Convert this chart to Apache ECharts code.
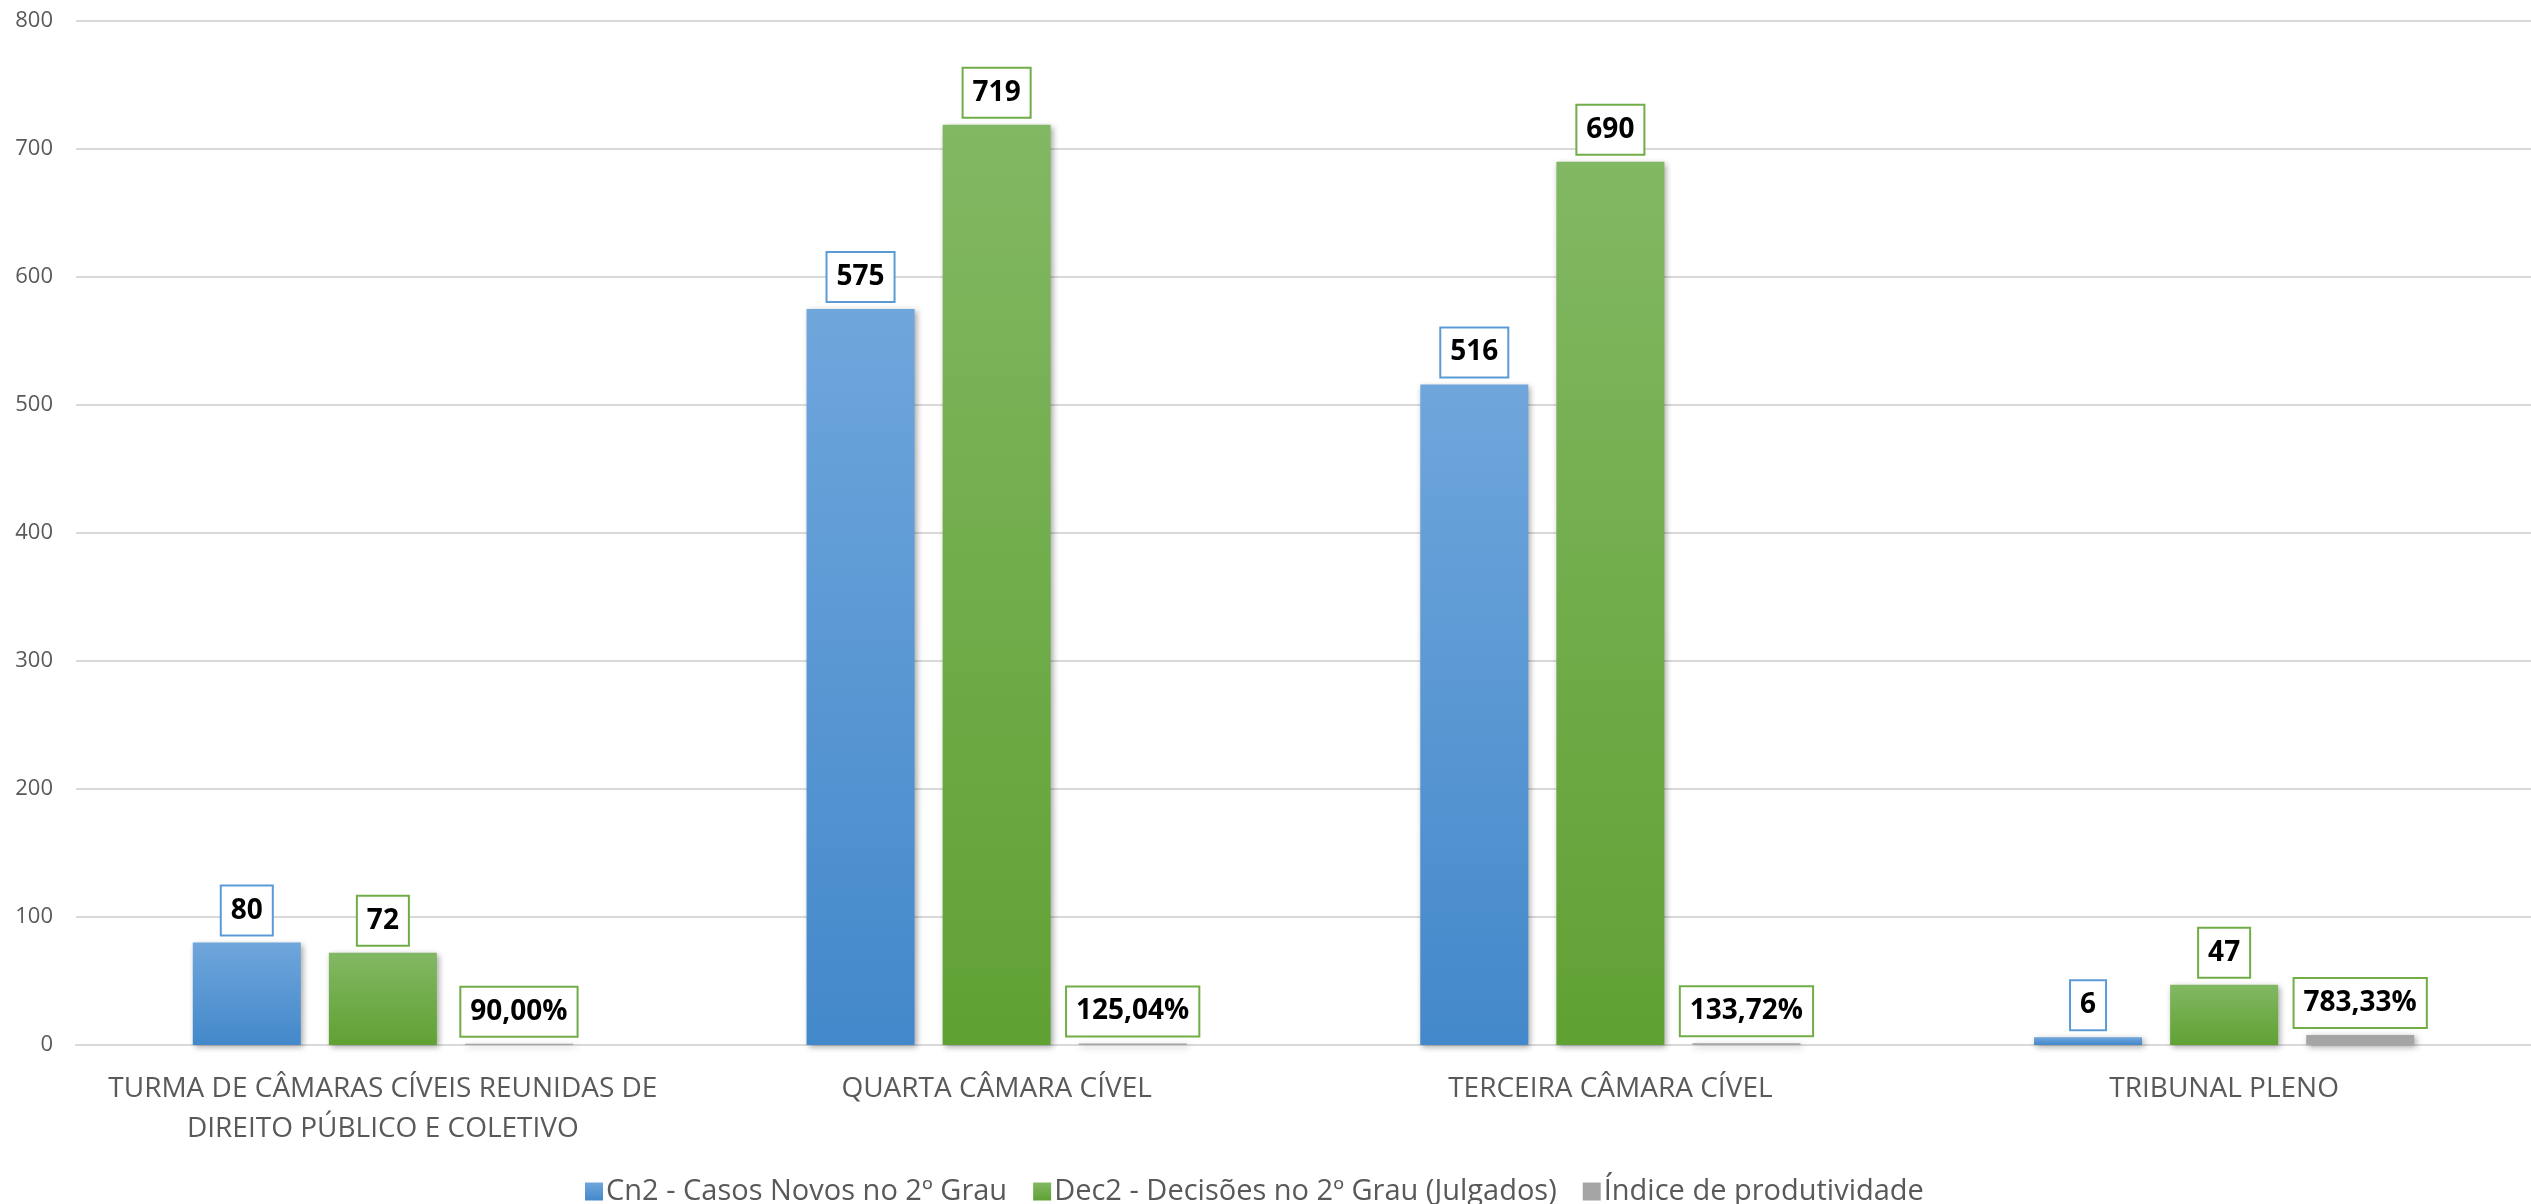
<!DOCTYPE html>
<html>
<head>
<meta charset="utf-8">
<script src="https://cdn.jsdelivr.net/npm/echarts@6/dist/echarts.min.js"></script>
<style>
html,body{margin:0;padding:0;background:#fff;}
#chart{width:2531px;height:1204px;}
</style>
</head>
<body>
<div id="chart"></div>
<script>
const categories = [
  'TURMA DE CÂMARAS CÍVEIS REUNIDAS DE\nDIREITO PÚBLICO E COLETIVO',
  'QUARTA CÂMARA CÍVEL',
  'TERCEIRA CÂMARA CÍVEL',
  'TRIBUNAL PLENO'
];
const seriesNames = [
  'Cn2 - Casos Novos no 2º Grau',
  'Dec2 - Decisões no 2º Grau (Julgados)',
  'Índice de produtividade'
];
const casosNovos = [80, 575, 516, 6];
const decisoes = [72, 719, 690, 47];
const indice = [0.9, 1.2504, 1.3372, 7.8333];
const yTicks = [0, 100, 200, 300, 400, 500, 600, 700, 800];

const FONT = '"Open Sans", "Noto Sans", sans-serif';

function grad(top, bottom) {
  return new echarts.graphic.LinearGradient(0, 0, 0, 1, [
    {offset: 0, color: top}, {offset: 1, color: bottom}
  ]);
}
function labelCfg(border, fmt) {
  return {
    show: true,
    position: 'top',
    distance: 8,
    formatter: fmt,
    fontFamily: FONT,
    fontWeight: 'bold',
    fontSize: 28,
    color: '#000',
    lineHeight: 32,
    backgroundColor: '#fff',
    borderColor: border,
    borderWidth: 2,
    padding: [8, 9, 8, 9]
  };
}
const shadow = {
  shadowBlur: 6,
  shadowColor: 'rgba(0,0,0,0.35)',
  shadowOffsetX: 2,
  shadowOffsetY: 2
};

const chart = echarts.init(document.getElementById('chart'), null, {renderer: 'canvas'});
chart.setOption({
  animation: false,
  backgroundColor: '#fff',
  grid: {left: 76, right: 0, top: 21, bottom: 159, containLabel: false},
  legend: {
    left: 580,
    top: 1172,
    itemWidth: 18,
    itemHeight: 18,
    itemGap: 26,
    icon: 'rect',
    textStyle: {fontFamily: FONT, fontSize: 29, color: '#595959', padding: [0, 0, 0, -2]},
    data: seriesNames
  },
  xAxis: {
    type: 'category',
    data: categories,
    axisLine: {show: true, lineStyle: {color: '#D9D9D9', width: 2}},
    axisTick: {show: false},
    axisLabel: {
      interval: 0,
      margin: 24,
      fontFamily: FONT,
      fontSize: 28,
      lineHeight: 40,
      color: '#595959',
      align: 'center'
    }
  },
  yAxis: {
    type: 'value',
    min: yTicks[0],
    max: yTicks[yTicks.length - 1],
    interval: 100,
    axisLine: {show: false},
    axisTick: {show: false},
    splitLine: {lineStyle: {color: '#D9D9D9', width: 2}},
    axisLabel: {
      margin: 23,
      fontFamily: FONT,
      fontSize: 22,
      color: '#595959'
    }
  },
  series: [
    {
      name: seriesNames[0],
      type: 'bar',
      data: casosNovos,
      barWidth: 108,
      barGap: '26%',
      itemStyle: Object.assign({color: grad('#6FA6DC', '#4388CA')}, shadow),
      label: labelCfg('#5B9BD5', p => String(p.value))
    },
    {
      name: seriesNames[1],
      type: 'bar',
      data: decisoes,
      barWidth: 108,
      barGap: '26%',
      itemStyle: Object.assign({color: grad('#82B863', '#60A133')}, shadow),
      label: labelCfg('#70AD47', p => String(p.value))
    },
    {
      name: seriesNames[2],
      type: 'bar',
      data: indice,
      barWidth: 108,
      barGap: '26%',
      itemStyle: Object.assign({color: '#A5A5A5'}, shadow),
      label: labelCfg('#70AD47', p => (p.value * 100).toFixed(2).replace('.', ',') + '%')
    }
  ]
});
</script>
</body>
</html>
